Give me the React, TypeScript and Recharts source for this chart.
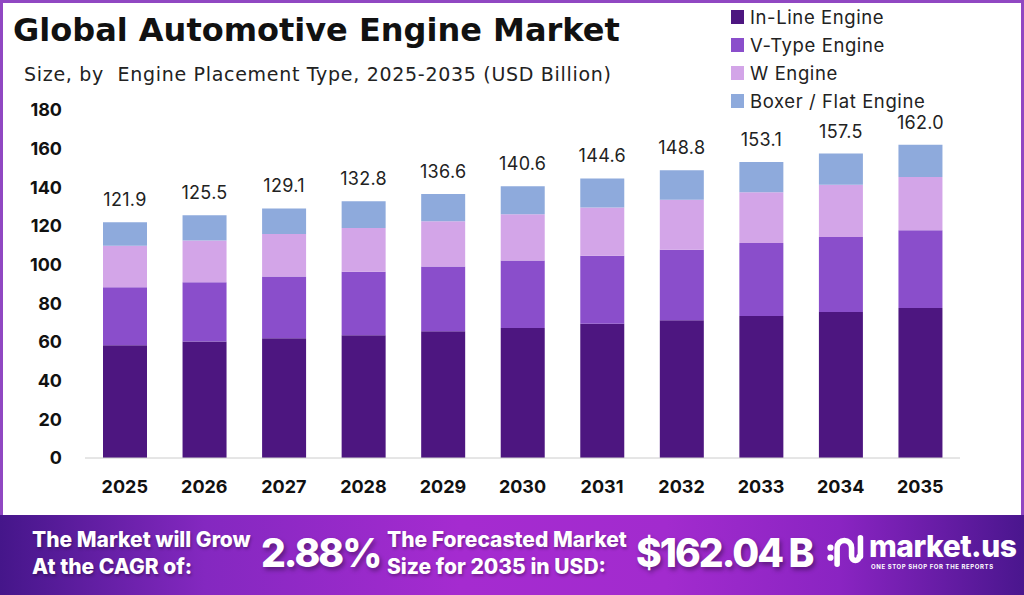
import React from 'react';
import { BarChart, Bar, XAxis, YAxis, LabelList } from 'recharts';

const years = ['2025', '2026', '2027', '2028', '2029', '2030', '2031', '2032', '2033', '2034', '2035'];
const inLine = [58.3, 60.2, 62.0, 63.5, 65.5, 67.3, 69.5, 71.2, 73.4, 75.5, 77.6];
const vType = [30.0, 30.7, 31.9, 32.8, 33.5, 34.9, 35.1, 36.5, 37.8, 38.8, 40.2];
const wEngine = [21.5, 21.6, 21.9, 22.7, 23.5, 23.9, 25.0, 25.9, 26.2, 27.1, 27.6];
const boxer = [12.1, 13.0, 13.3, 13.8, 14.1, 14.5, 15.0, 15.2, 15.7, 16.1, 16.6];
const totals = ['121.9', '125.5', '129.1', '132.8', '136.6', '140.6', '144.6', '148.8', '153.1', '157.5', '162.0'];
const yTicks = [0, 20, 40, 60, 80, 100, 120, 140, 160, 180];

const seriesNames = ['In-Line Engine', 'V-Type Engine', 'W Engine', 'Boxer / Flat Engine'];
const seriesKeys = ['inLine', 'vType', 'wEngine', 'boxer'];
const seriesColors = ['#4d1680', '#8a4ecb', '#d3a5e8', '#8eaadc'];

const data = years.map((y, i) => ({
  year: y,
  inLine: inLine[i],
  vType: vType[i],
  wEngine: wEngine[i],
  boxer: boxer[i],
  total: totals[i],
}));

const FONT = 'Inter, "Open Sans", "Noto Sans", sans-serif';
const WIDE = '"DejaVu Sans", Inter, sans-serif';

export default function App() {
  return (
    <div style={{ position: 'fixed', left: 0, top: 0, width: 1024, height: 595, background: '#fff', overflow: 'hidden', fontFamily: FONT }}>
      <div style={{ position: 'absolute', left: 0, top: 0, width: 1024, height: 520, boxSizing: 'border-box', borderLeft: '3px solid #9047c2', borderTop: '3px solid #9047c2', borderRight: '3px solid #9047c2' }} />
      <div style={{ position: 'absolute', left: 13, top: 11, fontSize: 32, fontWeight: 700, color: '#111', fontFamily: WIDE, letterSpacing: 0, whiteSpace: 'nowrap' }}>
        Global Automotive Engine Market
      </div>
      <div style={{ position: 'absolute', left: 24, top: 63, fontSize: 19, fontWeight: 400, color: '#222', fontFamily: WIDE, letterSpacing: 0.7, whiteSpace: 'pre' }}>
        {'Size, by  Engine Placement Type, 2025-2035 (USD Billion)'}
      </div>

      <div style={{ position: 'absolute', left: 0, top: 0 }}>
        <BarChart width={1024} height={510} data={data} margin={{ top: 110, right: 64, left: 0, bottom: 22 }}>
          <XAxis
            dataKey="year"
            height={30}
            tickLine={false}
            tickSize={0}
            tickMargin={22}
            axisLine={{ stroke: '#cccccc' }}
            tick={{ fontSize: 18, fontWeight: 700, fill: '#111', fontFamily: FONT }}
          />
          <YAxis
            width={85}
            domain={[0, 180]}
            ticks={yTicks}
            interval={0}
            axisLine={false}
            tickLine={false}
            tickSize={0}
            tickMargin={23}
            tick={{ fontSize: 18, fontWeight: 700, fill: '#111', fontFamily: FONT }}
          />
          {seriesKeys.map((k, i) => (
            <Bar key={k} dataKey={k} name={seriesNames[i]} stackId="a" fill={seriesColors[i]} barSize={44} isAnimationActive={false}>
              {i === seriesKeys.length - 1 ? (
                <LabelList dataKey="total" position="top" offset={16} style={{ fontSize: 18, fill: '#222', fontFamily: FONT, letterSpacing: 0.3 }} />
              ) : null}
            </Bar>
          ))}
        </BarChart>
      </div>

      <div style={{ position: 'absolute', left: 731, top: 3 }}>
        {seriesNames.map((n, i) => (
          <div key={n} style={{ display: 'flex', alignItems: 'center', height: 28 }}>
            <div style={{ width: 13, height: 14, background: seriesColors[i], marginRight: 6 }} />
            <span style={{ fontSize: 18.5, lineHeight: '17px', color: '#222', whiteSpace: 'nowrap', letterSpacing: 0.6 }}>{n}</span>
          </div>
        ))}
      </div>

      <div style={{ position: 'absolute', left: 0, top: 515, width: 1024, height: 80, background: 'linear-gradient(90deg, #45168a 0%, #8428c0 20%, #a52bd0 45%, #a22bce 65%, #8a24c2 82%, #4a168e 100%)' }}>
        <div style={{ position: 'absolute', left: 32, top: 11, fontSize: 21, fontWeight: 800, color: '#fff', lineHeight: '27px', textShadow: '1px 2px 3px rgba(0,0,0,0.3)', letterSpacing: 0, whiteSpace: 'nowrap' }}>
          The Market will Grow<br />At the CAGR of:
        </div>
        <div style={{ position: 'absolute', left: 261, top: 14, fontSize: 39, fontWeight: 800, color: '#fff', lineHeight: '48px', letterSpacing: -2, textShadow: '2px 3px 4px rgba(0,0,0,0.35)' }}>
          2.88%
        </div>
        <div style={{ position: 'absolute', left: 387, top: 11, fontSize: 21, fontWeight: 800, color: '#fff', lineHeight: '27px', textShadow: '1px 2px 3px rgba(0,0,0,0.3)', letterSpacing: 0, whiteSpace: 'nowrap' }}>
          The Forecasted Market<br />Size for 2035 in USD:
        </div>
        <div style={{ position: 'absolute', left: 636, top: 14, fontSize: 39, fontWeight: 800, color: '#fff', lineHeight: '48px', letterSpacing: -2, textShadow: '2px 3px 4px rgba(0,0,0,0.35)', whiteSpace: 'nowrap' }}>
          $162.04 B
        </div>
        <svg style={{ position: 'absolute', left: 826, top: 16 }} width={40} height={40} viewBox="0 0 36 36">
          <circle cx={4} cy={15} r={2.8} fill="#fff" />
          <circle cx={4} cy={24} r={2.8} fill="#fff" />
          <path d="M10 30 V15 a6.5 6.5 0 0 1 13 0 V23 a3.5 3.5 0 0 0 7 0" stroke="#fff" strokeWidth={5} fill="none" strokeLinecap="round" />
          <path d="M31 6 V23" stroke="#fff" strokeWidth={5} strokeLinecap="round" />
        </svg>
        <div style={{ position: 'absolute', left: 869, top: 14, fontSize: 30, fontWeight: 800, color: '#fff', lineHeight: '34px', letterSpacing: -0.5 }}>
          market.us
        </div>
        <div style={{ position: 'absolute', left: 871, top: 48, fontSize: 6, fontWeight: 700, color: '#fff', letterSpacing: 0.6, whiteSpace: 'nowrap' }}>
          ONE STOP SHOP FOR THE REPORTS
        </div>
      </div>
    </div>
  );
}
